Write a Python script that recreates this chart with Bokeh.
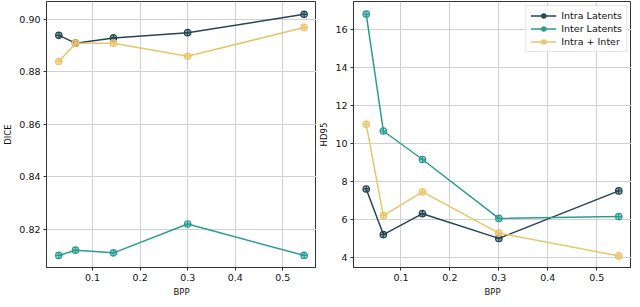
from bokeh.plotting import figure
from bokeh.layouts import row
from bokeh.models import FixedTicker, Range1d, CustomJSTickFormatter
from bokeh.embed import file_html
from bokeh.resources import INLINE

bpp = [0.029, 0.064, 0.144, 0.300, 0.545]

dice_intra = [0.894, 0.891, 0.893, 0.895, 0.902]
dice_inter = [0.810, 0.812, 0.811, 0.822, 0.810]
dice_both = [0.884, 0.891, 0.891, 0.886, 0.897]

hd_intra = [7.6, 5.2, 6.3, 5.0, 7.5]
hd_inter = [16.8, 10.65, 9.15, 6.05, 6.15]
hd_both = [11.0, 6.2, 7.45, 5.28, 4.08]

labels = ["Intra Latents", "Inter Latents", "Intra + Inter"]
colors = ["#264653", "#2a9d8f", "#e9c46a"]

x_ticks = [0.1, 0.2, 0.3, 0.4, 0.5]
dice_ticks = [0.82, 0.84, 0.86, 0.88, 0.90]
hd_ticks = [4, 6, 8, 10, 12, 14, 16]

FONT = "DejaVu Sans"


def make(width, border_left, yr, yticks, ylabel, series, fmt, legend):
    p = figure(width=width, height=299, output_backend="svg", toolbar_location=None,
               x_range=Range1d(0.003, 0.571), y_range=Range1d(*yr),
               min_border_left=border_left, min_border_right=0,
               min_border_top=1, min_border_bottom=26)
    p.outline_line_color = "#333333"
    p.outline_line_width = 1
    for ax, ticks in ((p.xaxis[0], x_ticks), (p.yaxis[0], yticks)):
        ax.ticker = FixedTicker(ticks=ticks)
        ax.minor_tick_line_color = None
        ax.major_tick_out = 3
        ax.major_tick_in = 0
        ax.axis_line_color = "#333333"
        ax.major_tick_line_color = "#333333"
        ax.major_label_text_font = FONT
        ax.major_label_text_font_size = "9.5px"
        ax.major_label_text_color = "#111111"
        ax.axis_label_text_font = FONT
        ax.axis_label_text_font_size = "8.5px"
        ax.axis_label_text_font_style = "normal"
        ax.axis_label_text_color = "#111111"
        ax.axis_label_standoff = 3
        ax.major_label_standoff = 3
    p.xaxis[0].axis_label = "BPP"
    p.yaxis[0].axis_label = ylabel
    p.yaxis[0].formatter = CustomJSTickFormatter(code="return tick.toFixed(%d);" % fmt)
    p.xaxis[0].formatter = CustomJSTickFormatter(code="return tick.toFixed(1);")
    p.grid.grid_line_color = "#d0d0d0"
    p.grid.grid_line_width = 1
    for vals, lab, col in zip(series, labels, colors):
        kw = dict(legend_label=lab) if legend else {}
        p.line(bpp, vals, line_color=col, line_width=1.5, **kw)
        p.scatter(bpp, vals, marker="circle_cross", size=6.5, line_color=col,
                  fill_color=col, fill_alpha=0.45, line_width=1.2, **kw)
    if legend:
        lg = p.legend[0]
        lg.location = "top_right"
        lg.label_text_font = FONT
        lg.label_text_font_size = "9.5px"
        lg.label_text_color = "#111111"
        lg.label_height = 11
        lg.glyph_height = 11
        lg.glyph_width = 26
        lg.spacing = 2
        lg.padding = 4
        lg.margin = 4
        lg.border_line_color = "#cccccc"
        lg.background_fill_alpha = 0.85
    return p


p1 = make(316, 33, (0.8054, 0.9069), dice_ticks, "DICE",
          [dice_intra, dice_inter, dice_both], 2, False)
p2 = make(315, 36, (3.47, 17.46), hd_ticks, "HD95",
          [hd_intra, hd_inter, hd_both], 0, True)

layout = row(p1, p2, spacing=0)
open("out.html", "w").write(file_html(layout, INLINE))
